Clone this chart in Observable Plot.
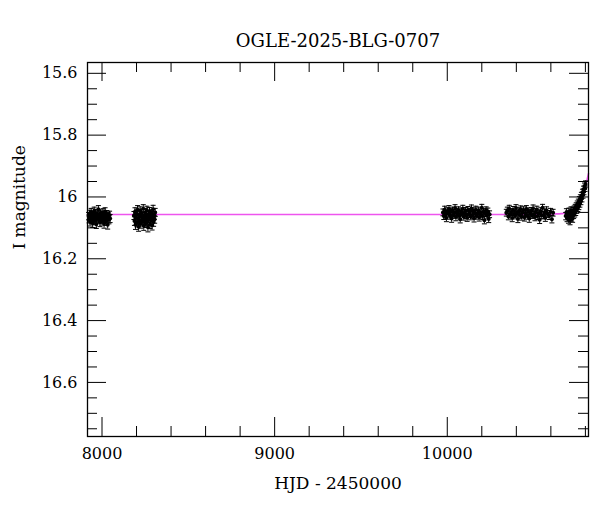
<!DOCTYPE html>
<html>
<head>
<meta charset="utf-8">
<script src="https://cdn.jsdelivr.net/npm/d3@7"></script>
<script src="https://cdn.jsdelivr.net/npm/@observablehq/plot@0.6"></script>
<style>
  html, body { margin: 0; padding: 0; background: #fff; }
  #chart { width: 600px; height: 512px; }
</style>
</head>
<body>
<div id="chart"></div>
<script>
// ---- Data (HJD - 2450000, I magnitude, error) ----
const title = "OGLE-2025-BLG-0707";
const xLabel = "HJD - 2450000";
const yLabel = "I magnitude";
const xTickLabels = [8000, 9000, 10000];
const yTickLabels = [15.6, 15.8, 16, 16.2, 16.4, 16.6];

const season2017a = [
  [7922,16.062,0.012],[7925,16.071,0.013],[7928,16.055,0.012],[7931,16.080,0.014],[7934,16.066,0.012],
  [7937,16.049,0.012],[7940,16.074,0.013],[7943,16.060,0.012],[7946,16.085,0.014],[7949,16.058,0.012],
  [7952,16.068,0.012],[7955,16.045,0.012],[7958,16.077,0.013],[7961,16.063,0.012],[7964,16.052,0.012],
  [7967,16.088,0.014],[7970,16.070,0.012],[7973,16.057,0.012],[7976,16.066,0.013],[7979,16.040,0.012],
  [7982,16.073,0.012],[7985,16.061,0.012],[7988,16.082,0.014],[7991,16.054,0.012],[7994,16.069,0.012],
  [7997,16.059,0.013],[8000,16.078,0.013],[8003,16.064,0.012],[8006,16.050,0.012],[8009,16.072,0.013],
  [8012,16.087,0.014],[8015,16.060,0.012],[8018,16.047,0.012],[8021,16.068,0.012],[8024,16.079,0.013],
  [8027,16.056,0.012],[8030,16.065,0.012],[8033,16.090,0.014],[8036,16.062,0.012],[8040,16.074,0.013],
  [8044,16.058,0.012],[8047,16.070,0.013]
];
const season2018 = [
  [8185,16.060,0.013],[8188,16.078,0.014],[8191,16.048,0.013],[8194,16.090,0.015],[8197,16.066,0.013],
  [8200,16.055,0.013],[8203,16.083,0.014],[8206,16.041,0.013],[8209,16.070,0.013],[8212,16.096,0.015],
  [8215,16.059,0.013],[8218,16.075,0.014],[8221,16.045,0.013],[8224,16.087,0.014],[8227,16.064,0.013],
  [8230,16.052,0.013],[8233,16.080,0.014],[8236,16.069,0.013],[8239,16.038,0.013],[8242,16.093,0.015],
  [8245,16.061,0.013],[8248,16.074,0.013],[8251,16.050,0.013],[8254,16.085,0.014],[8257,16.066,0.013],
  [8260,16.043,0.013],[8263,16.078,0.014],[8266,16.098,0.015],[8269,16.057,0.013],[8272,16.070,0.013],
  [8275,16.047,0.013],[8278,16.088,0.014],[8281,16.063,0.013],[8284,16.076,0.013],[8287,16.053,0.013],
  [8290,16.092,0.015],[8293,16.067,0.013],[8296,16.040,0.013],[8299,16.081,0.014],[8302,16.060,0.013],
  [8305,16.072,0.013],[8308,16.050,0.013]
];
const season2023 = [
  [9975,16.050,0.011],[9980,16.062,0.011],[9985,16.041,0.011],[9990,16.057,0.011],[9995,16.068,0.012],
  [10000,16.046,0.011],[10005,16.054,0.011],[10010,16.039,0.011],[10015,16.061,0.011],[10020,16.049,0.011],
  [10025,16.070,0.012],[10030,16.044,0.011],[10035,16.058,0.011],[10040,16.052,0.011],[10045,16.036,0.011],
  [10050,16.065,0.012],[10055,16.048,0.011],[10060,16.056,0.011],[10065,16.043,0.011],[10070,16.060,0.011],
  [10075,16.072,0.012],[10080,16.047,0.011],[10085,16.053,0.011],[10090,16.038,0.011],[10095,16.064,0.011],
  [10100,16.051,0.011],[10105,16.045,0.011],[10110,16.059,0.011],[10115,16.067,0.012],[10120,16.042,0.011],
  [10125,16.055,0.011],[10130,16.049,0.011],[10135,16.063,0.011],[10140,16.037,0.011],[10145,16.058,0.011],
  [10150,16.046,0.011],[10155,16.069,0.012],[10160,16.052,0.011],[10165,16.041,0.011],[10170,16.061,0.011],
  [10175,16.054,0.011],[10180,16.044,0.011],[10185,16.066,0.012],[10190,16.050,0.011],[10195,16.057,0.011],
  [10200,16.035,0.011],[10205,16.062,0.011],[10210,16.048,0.011],[10215,16.075,0.012],[10220,16.053,0.011],
  [10225,16.043,0.011],[10230,16.060,0.011],[10235,16.047,0.011],[10240,16.071,0.012],[10245,16.056,0.011]
];
const season2024 = [
  [10342,16.051,0.011],[10348,16.044,0.011],[10354,16.063,0.011],[10359,16.038,0.011],[10365,16.057,0.011],
  [10370,16.049,0.011],[10376,16.068,0.012],[10381,16.042,0.011],[10387,16.055,0.011],[10392,16.060,0.011],
  [10398,16.036,0.011],[10403,16.053,0.011],[10409,16.071,0.012],[10414,16.046,0.011],[10420,16.058,0.011],
  [10425,16.040,0.011],[10431,16.064,0.011],[10436,16.050,0.011],[10442,16.043,0.011],[10447,16.066,0.012],
  [10453,16.054,0.011],[10458,16.039,0.011],[10464,16.061,0.011],[10469,16.047,0.011],[10475,16.070,0.012],
  [10480,16.052,0.011],[10486,16.045,0.011],[10491,16.059,0.011],[10497,16.037,0.011],[10502,16.056,0.011],
  [10508,16.065,0.012],[10513,16.048,0.011],[10519,16.041,0.011],[10524,16.062,0.011],[10530,16.053,0.011],
  [10535,16.074,0.012],[10541,16.046,0.011],[10546,16.058,0.011],[10552,16.035,0.011],[10557,16.060,0.011],
  [10563,16.050,0.011],[10568,16.067,0.012],[10575,16.043,0.011],[10582,16.055,0.011],[10590,16.062,0.011],
  [10598,16.048,0.011],[10606,16.072,0.012],[10613,16.051,0.011]
];
const season2025 = [
  [10686,16.062,0.012],[10690,16.050,0.012],[10694,16.068,0.012],[10698,16.057,0.012],[10702,16.072,0.013],
  [10705,16.048,0.012],[10708,16.063,0.012],[10711,16.077,0.013],[10714,16.055,0.012],[10717,16.044,0.012],
  [10720,16.066,0.012],[10723,16.052,0.012],[10726,16.070,0.012],[10729,16.046,0.012],[10732,16.058,0.012],
  [10735,16.040,0.011],[10738,16.053,0.012],[10741,16.035,0.011],[10744,16.048,0.012],[10747,16.030,0.011],
  [10750,16.042,0.011],[10753,16.024,0.011],[10756,16.036,0.011],[10759,16.018,0.011],[10762,16.030,0.011],
  [10765,16.010,0.011],[10768,16.022,0.011],[10771,16.004,0.011],[10774,16.014,0.011],[10777,15.996,0.011],
  [10780,16.005,0.011],[10783,15.985,0.010],[10786,15.994,0.010],[10789,15.975,0.010],[10792,15.983,0.010],
  [10795,15.965,0.010],[10798,15.972,0.010],[10801,15.958,0.010]
];

// Model curve
const modelHJD = [7916, 10400, 10550, 10620, 10660, 10690, 10710, 10730, 10745, 10757, 10768, 10778, 10787, 10795, 10802, 10809, 10818];
const modelMag = [16.057, 16.057, 16.056, 16.055, 16.054, 16.052, 16.049, 16.044, 16.037, 16.029, 16.019, 16.007, 15.993, 15.978, 15.962, 15.946, 15.924];

// Tick positions
const xMajor = [8000, 9000, 10000];
const xMinor = [8200, 8400, 8600, 8800, 9200, 9400, 9600, 9800, 10200, 10400, 10600, 10800];
const yMajor = [15.6, 15.8, 16.0, 16.2, 16.4, 16.6];
const yMinor = [15.65, 15.7, 15.75, 15.85, 15.9, 15.95, 16.05, 16.1, 16.15, 16.25, 16.3, 16.35, 16.45, 16.5, 16.55, 16.65, 16.7, 16.75];

// ---- Build table ----
const obs = [season2017a, season2018, season2023, season2024, season2025]
  .flat()
  .map(([hjd, mag, err]) => ({hjd, mag, err}));
const model = modelHJD.map((h, i) => ({hjd: h, mag: modelMag[i]}));

const W = 600, H = 512;
const mT = 62, mB = 76, mL = 87, mR = 12;
const FH = H - mT - mB;      // frame height
const FW = W - mL - mR;      // frame width
const LMAJ = 19, LMIN = 10;

const cap = { draw(ctx) { ctx.moveTo(-2.5, 0); ctx.lineTo(2.5, 0); } };

const chart = Plot.plot({
  width: W, height: H,
  marginTop: mT, marginBottom: mB, marginLeft: mL, marginRight: mR,
  x: {domain: [7916, 10818], axis: null},
  y: {domain: [15.565, 16.775], reverse: true, axis: null},
  style: {fontFamily: "'DejaVu Serif', serif", fontSize: "16px", background: "#fff", color: "#000", overflow: "visible"},
  marks: [
    // model
    Plot.line(model, {x: "hjd", y: "mag", stroke: "#ee55ee", strokeWidth: 1.6, curve: "monotone-x"}),
    // error bars
    Plot.ruleX(obs, {x: "hjd", y1: d => d.mag - d.err, y2: d => d.mag + d.err, stroke: "#000", strokeWidth: 1}),
    Plot.dot(obs, {x: "hjd", y: d => d.mag - d.err, symbol: cap, fill: "none", stroke: "#000", strokeWidth: 1}),
    Plot.dot(obs, {x: "hjd", y: d => d.mag + d.err, symbol: cap, fill: "none", stroke: "#000", strokeWidth: 1}),
    Plot.dot(obs, {x: "hjd", y: "mag", r: 2, fill: "#000", stroke: "none"}),
    // ticks bottom / top
    Plot.tickX(xMajor, {x: d => d, insetTop: FH - LMAJ, stroke: "#000", strokeWidth: 1}),
    Plot.tickX(xMajor, {x: d => d, insetBottom: FH - LMAJ, stroke: "#000", strokeWidth: 1}),
    Plot.tickX(xMinor, {x: d => d, insetTop: FH - LMIN, stroke: "#000", strokeWidth: 1}),
    Plot.tickX(xMinor, {x: d => d, insetBottom: FH - LMIN, stroke: "#000", strokeWidth: 1}),
    // ticks left / right
    Plot.tickY(yMajor, {y: d => d, insetRight: FW - LMAJ, stroke: "#000", strokeWidth: 1}),
    Plot.tickY(yMajor, {y: d => d, insetLeft: FW - LMAJ, stroke: "#000", strokeWidth: 1}),
    Plot.tickY(yMinor, {y: d => d, insetRight: FW - LMIN, stroke: "#000", strokeWidth: 1}),
    Plot.tickY(yMinor, {y: d => d, insetLeft: FW - LMIN, stroke: "#000", strokeWidth: 1}),
    Plot.frame({stroke: "#000", strokeWidth: 1.3}),
    // tick labels
    Plot.text(xTickLabels, {x: d => d, text: d => String(d), frameAnchor: "bottom", dy: 22, fill: "#000", fontSize: 16}),
    Plot.text(yTickLabels, {y: d => d, text: d => String(d), frameAnchor: "left", dx: -10, textAnchor: "end", fill: "#000", fontSize: 16}),
    // axis labels & title
    Plot.text([xLabel], {text: d => d, frameAnchor: "bottom", dy: 52, fill: "#000", fontSize: 17}),
    Plot.text([yLabel], {text: d => d, frameAnchor: "left", dx: -68, rotate: -90, fill: "#000", fontSize: 17}),
    Plot.text([title], {text: d => d, frameAnchor: "top", dy: -28, fill: "#000", fontSize: 18})
  ]
});
document.getElementById("chart").appendChild(chart);
</script>
</body>
</html>
